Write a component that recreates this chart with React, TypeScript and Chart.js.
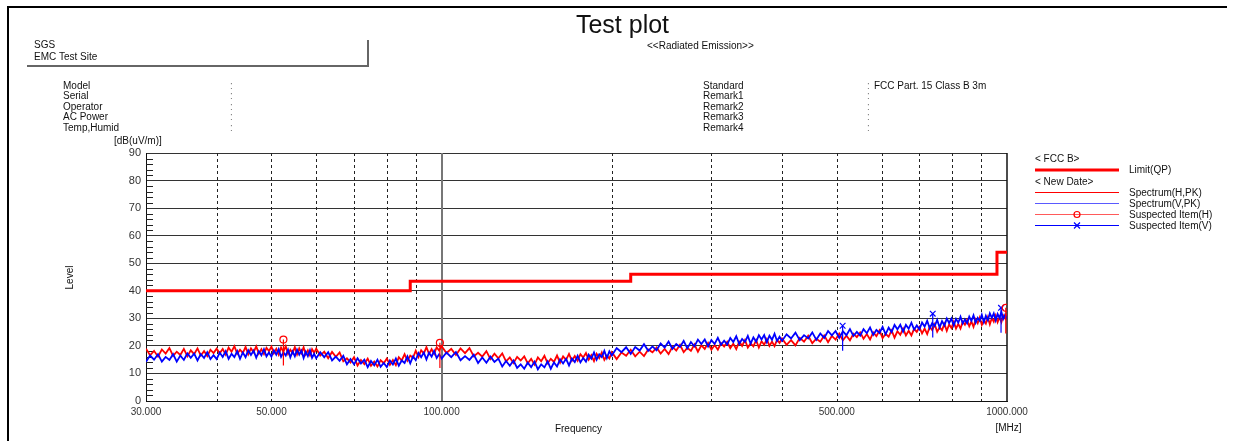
import { useEffect, useRef } from "react";
import { Chart, registerables } from "chart.js";

Chart.register(...registerables);

// ---------- data ----------
const FREQ_MHZ = [
  30, 30.5, 31, 31.5, 32, 32.5, 33, 33.5, 34, 34.5, 35, 35.5, 36, 36.5, 37, 37.5, 38, 38.5, 39, 39.5,
  40, 40.5, 41, 41.5, 42, 42.5, 43, 43.5, 44, 44.5, 45, 45.5, 46, 46.5, 47, 47.5, 48, 48.5, 49, 49.5,
  50, 50.5, 51, 51.5, 52, 52.5, 53, 53.5, 54, 54.5, 55, 55.5, 56, 56.5, 57, 57.5, 58, 58.5, 59, 59.5, 60,
  61, 62, 63, 64, 65, 66, 67, 68, 69, 70, 71, 72, 73, 74, 75, 76, 77, 78, 79, 80,
  81, 82, 83, 84, 85, 86, 87, 88, 89, 90, 91, 92, 93, 94, 95, 96, 97, 98, 99, 100,
  102, 104, 106, 108, 110, 112, 114, 116, 118, 120, 122, 124, 126, 128, 130, 132, 134, 136, 138, 140,
  142, 144, 146, 148, 150, 152, 154, 156, 158, 160, 162, 164, 166, 168, 170, 172, 174, 176, 178, 180,
  182, 184, 186, 188, 190, 192, 194, 196, 198, 200,
  204, 208, 212, 216, 220, 224, 228, 232, 236, 240, 244, 248, 252, 256, 260, 264, 268, 272, 276, 280,
  284, 288, 292, 296, 300, 304, 308, 312, 316, 320, 324, 328, 332, 336, 340, 344, 348, 352, 356, 360,
  364, 368, 372, 376, 380, 384, 388, 392, 396, 400,
  407.5, 415, 422.5, 430, 437.5, 445, 452.5, 460, 467.5, 475, 482.5, 490, 497.5, 505, 512.5, 520, 527.5, 535, 542.5, 550,
  557.5, 565, 572.5, 580, 587.5, 595, 602.5, 610, 617.5, 625, 632.5, 640, 647.5, 655, 662.5, 670, 677.5, 685, 692.5, 700,
  707.5, 715, 722.5, 730, 737.5, 745, 752.5, 760, 767.5, 775, 782.5, 790, 797.5, 805, 812.5, 820, 827.5, 835, 842.5, 850,
  857.5, 865, 872.5, 880, 887.5, 895, 902.5, 910, 917.5, 925, 932.5, 940, 947.5, 955, 962.5, 970, 977.5, 985, 992.5, 1000,
];

const SPECTRUM_H = [
  19.0, 16.6, 18.2, 16.1, 18.7, 17.2, 19.2, 16.4, 17.9, 16.7, 18.9, 16.2, 18.4, 17.0, 19.1, 16.5, 18.1, 16.3, 18.6, 17.4,
  19.0, 17.3, 18.9, 16.8, 19.4, 17.9, 19.9, 17.1, 18.6, 17.4, 19.6, 16.9, 19.1, 17.7, 19.8, 17.2, 18.8, 17.0, 19.3, 18.1,
  19.7, 17.3, 18.9, 16.8, 19.4, 17.9, 19.9, 17.1, 18.6, 17.4, 19.6, 16.9, 19.1, 17.4, 19.5, 16.9, 18.4, 16.6, 18.8, 17.5, 19.0,
  16.5, 17.9, 15.5, 17.8, 16.0, 17.6, 14.4, 15.5, 14.0, 15.9, 12.9, 14.9, 13.4, 15.4, 12.8, 14.3, 12.5, 14.8, 13.7, 15.4,
  13.1, 14.9, 13.0, 15.9, 14.7, 17.0, 14.6, 16.5, 15.7, 18.3, 15.9, 18.4, 17.2, 19.5, 17.1, 18.8, 17.1, 19.5, 18.3, 19.9,
  17.4, 18.9, 16.7, 19.1, 17.4, 19.2, 16.2, 17.5, 16.1, 18.1, 15.2, 17.2, 15.5, 17.3, 14.4, 15.8, 13.8, 16.0, 14.7, 16.2,
  13.7, 15.3, 13.2, 15.8, 14.4, 16.4, 13.7, 15.3, 14.2, 16.5, 13.9, 16.2, 14.9, 17.1, 14.6, 16.3, 14.6, 17.0, 15.8, 17.4,
  15.0, 16.6, 14.5, 17.1, 15.6, 17.6, 14.9, 16.5, 15.4, 17.7,
  15.2, 17.6, 16.4, 18.6, 16.2, 17.9, 16.3, 18.7, 17.7, 19.4, 17.2, 18.9, 17.0, 19.7, 18.3, 20.4, 17.7, 19.3, 18.2, 20.5,
  17.9, 20.2, 18.9, 21.1, 18.6, 20.3, 18.6, 21.0, 19.8, 21.5, 19.2, 20.8, 18.8, 21.5, 20.0, 22.1, 19.4, 20.9, 19.8, 22.1,
  19.4, 21.7, 20.4, 22.5, 20.0, 21.6, 19.9, 22.2, 21.1, 22.7,
  20.4, 22.1, 20.2, 22.9, 21.5, 23.7, 21.0, 22.6, 21.5, 23.8, 21.3, 23.6, 22.3, 24.5, 22.0, 23.7, 22.0, 24.4, 23.2, 24.9,
  22.6, 24.3, 22.3, 24.9, 23.5, 25.6, 22.8, 24.4, 23.3, 25.6, 23.0, 25.3, 24.0, 26.3, 23.8, 25.5, 23.8, 26.2, 25.1, 26.8,
  24.5, 26.3, 24.3, 27.0, 25.7, 27.8, 25.1, 26.7, 25.7, 28.0, 25.5, 27.8, 26.5, 28.8, 26.3, 28.0, 26.3, 28.8, 27.7, 29.4,
  27.1, 28.9, 26.9, 29.6, 28.2, 30.3, 27.6, 29.2, 28.1, 30.4, 27.8, 30.1, 28.8, 31.0, 28.6, 30.3, 28.6, 31.0, 29.9, 31.6,
];

const SPECTRUM_V = [
  14.2, 16.5, 15.0, 17.0, 14.3, 16.0, 14.9, 17.0, 14.3, 16.5, 14.9, 17.3, 15.7, 17.2, 14.7, 17.0, 15.6, 17.7, 15.2, 16.6,
  15.2, 17.6, 16.0, 18.1, 15.3, 17.1, 15.9, 18.1, 15.3, 17.6, 15.9, 18.4, 16.7, 18.3, 15.7, 18.1, 16.6, 18.8, 16.2, 17.6,
  16.1, 18.4, 16.8, 18.8, 16.0, 17.7, 16.5, 18.6, 15.8, 18.0, 16.2, 18.6, 16.8, 18.3, 15.6, 17.9, 16.3, 18.4, 15.7, 17.1, 15.5,
  17.7, 15.9, 17.7, 14.7, 16.1, 14.6, 16.4, 13.3, 15.2, 13.3, 15.5, 13.6, 15.0, 12.3, 14.5, 12.9, 15.0, 12.4, 13.8, 12.3,
  14.7, 13.2, 15.4, 12.8, 14.7, 13.8, 16.2, 13.7, 16.2, 14.8, 17.4, 15.9, 17.6, 15.1, 17.5, 16.1, 18.2, 15.6, 17.0, 15.4,
  17.6, 15.9, 17.8, 14.8, 16.3, 14.9, 16.8, 13.8, 15.8, 13.9, 16.1, 14.2, 15.4, 12.5, 14.5, 12.8, 14.7, 12.0, 13.3, 11.7,
  13.9, 12.3, 14.3, 11.5, 13.3, 12.2, 14.4, 11.7, 14.0, 12.5, 15.1, 13.6, 15.3, 12.9, 15.4, 14.1, 16.4, 14.0, 15.6, 14.3,
  16.8, 15.4, 17.6, 15.0, 16.9, 15.9, 18.2, 15.6, 18.0, 16.5,
  19.2, 17.7, 19.5, 17.1, 19.6, 18.3, 20.6, 18.2, 19.8, 18.4, 20.9, 19.4, 21.6, 18.9, 20.7, 19.6, 21.8, 19.1, 21.4, 19.8,
  22.3, 20.7, 22.3, 19.8, 22.1, 20.7, 22.9, 20.4, 21.9, 20.5, 22.9, 21.4, 23.5, 20.7, 22.5, 21.4, 23.6, 20.8, 23.1, 21.5,
  23.9, 22.3, 23.9, 21.3, 23.7, 22.2, 24.4, 21.8, 23.3, 21.8,
  24.2, 22.7, 24.8, 22.1, 23.9, 22.7, 24.9, 22.2, 24.5, 22.9, 25.4, 23.8, 25.4, 22.9, 25.3, 23.9, 26.1, 23.6, 25.1, 23.7,
  26.1, 24.6, 26.7, 24.0, 25.8, 24.7, 26.9, 24.2, 26.6, 25.0, 27.6, 26.0, 27.7, 25.2, 27.6, 26.2, 28.4, 25.9, 27.4, 26.0,
  28.5, 27.0, 29.1, 26.4, 28.3, 27.2, 29.4, 26.7, 29.0, 27.4, 29.9, 28.3, 29.9, 27.4, 29.8, 28.4, 30.6, 28.1, 29.6, 28.2,
  30.6, 29.1, 31.1, 28.4, 30.2, 29.1, 31.3, 28.6, 30.9, 29.3, 31.8, 30.2, 31.8, 29.2, 31.6, 30.2, 32.3, 29.8, 31.3, 29.8,
];

const LIMIT_FREQ = [30, 88, 216, 960, 1000];
const LIMIT_QP = [40, 43.5, 46, 54, 54];

const SUSPECT_H_FREQ = [52.5, 99.3, 995];
const SUSPECT_H_LEVEL = [22.3, 21.1, 33.8];
const SUSPECT_H_LOW = [12.9, 12.0, 24.5];

const SUSPECT_V_FREQ = [512, 739, 976];
const SUSPECT_V_LEVEL = [27.3, 31.7, 33.8];
const SUSPECT_V_LOW = [18.2, 23.0, 24.8];

const X_TICKS = [30, 50, 100, 500, 1000];
const X_GRID_DASHED = [40, 50, 60, 70, 80, 90, 200, 300, 400, 500, 600, 700, 800, 900];
const X_GRID_SOLID = [100];
const Y_MIN = 0;
const Y_MAX = 90;
const Y_STEP = 10;
const Y_MINOR_STEP = 2;

const TITLE = "Test plot";
const SUBTITLE = "<<Radiated Emission>>";
const SITE_LINES = ["SGS", "EMC Test Site"];
const INFO_LEFT = ["Model", "Serial", "Operator", "AC Power", "Temp,Humid"];
const INFO_RIGHT = ["Standard", "Remark1", "Remark2", "Remark3", "Remark4"];
const INFO_RIGHT_VALUES = ["FCC Part. 15 Class B 3m", "", "", "", ""];
const Y_UNIT = "[dB(uV/m)]";
const Y_TITLE = "Level";
const X_TITLE = "Frequency";
const X_UNIT = "[MHz]";
const LEGEND_GROUP_1 = "< FCC B>";
const LEGEND_GROUP_2 = "< New Date>";
const LEGEND_LABELS = ["Limit(QP)", "Spectrum(H,PK)", "Spectrum(V,PK)", "Suspected Item(H)", "Suspected Item(V)"];

const FONT = '"Liberation Sans", Arial, Helvetica, sans-serif';
const RED = "#ff0000";
const BLUE = "#0000ff";

const decorPlugin = {
  id: "decor",
  beforeDatasetsDraw(chart: any) {
    const { ctx, chartArea: a, scales } = chart;
    const x = scales.x;
    const y = scales.y;
    const line = (x1: number, y1: number, x2: number, y2: number) => {
      ctx.beginPath();
      ctx.moveTo(x1, y1);
      ctx.lineTo(x2, y2);
      ctx.stroke();
    };
    ctx.save();
    ctx.strokeStyle = "#222";
    ctx.lineWidth = 1;
    for (let v = Y_MIN; v <= Y_MAX; v += Y_MINOR_STEP) {
      if (v % Y_STEP === 0) continue;
      const py = Math.round(y.getPixelForValue(v)) + 0.5;
      line(a.left, py, a.left + 7, py);
    }
    ctx.setLineDash([3, 3]);
    ctx.strokeStyle = "#222";
    for (const f of X_GRID_DASHED) {
      const px = Math.round(x.getPixelForValue(f)) + 0.5;
      line(px, a.top, px, a.bottom);
    }
    ctx.setLineDash([]);
    ctx.strokeStyle = "#777";
    ctx.lineWidth = 2;
    for (const f of X_GRID_SOLID) {
      const px = Math.round(x.getPixelForValue(f));
      line(px, a.top, px, a.bottom);
    }
    ctx.strokeStyle = "#111";
    ctx.lineWidth = 1.5;
    line(a.right, a.top, a.right, a.bottom);
    ctx.restore();
  },
  afterDraw(chart: any) {
    const { ctx } = chart;
    ctx.save();
    ctx.fillStyle = "#000";
    ctx.fillRect(7, 6, 1220, 2);
    ctx.fillRect(7, 6, 2, 435);
    ctx.fillStyle = "#666";
    ctx.fillRect(27, 65, 342, 2);
    ctx.fillRect(367, 40, 2, 27);

    ctx.fillStyle = "#111";
    ctx.textBaseline = "alphabetic";
    ctx.textAlign = "center";
    ctx.font = `25px ${FONT}`;
    ctx.fillText(TITLE, 622.5, 33);

    ctx.textAlign = "left";
    ctx.font = `10px ${FONT}`;
    ctx.fillText(SUBTITLE, 647, 49);
    SITE_LINES.forEach((t, i) => ctx.fillText(t, 34, 48 + i * 11.5));

    INFO_LEFT.forEach((t, i) => {
      const by = 88.5 + i * 10.6;
      ctx.fillStyle = "#111";
      ctx.fillText(t, 63, by);
      ctx.fillStyle = "#777";
      ctx.fillText(":", 230, by);
    });
    INFO_RIGHT.forEach((t, i) => {
      const by = 88.5 + i * 10.6;
      ctx.fillStyle = "#111";
      ctx.fillText(t, 703, by);
      ctx.fillStyle = "#777";
      ctx.fillText(":", 867, by);
      if (INFO_RIGHT_VALUES[i]) {
        ctx.fillStyle = "#111";
        ctx.fillText(INFO_RIGHT_VALUES[i], 874, by);
      }
    });

    ctx.fillStyle = "#111";
    ctx.fillText(Y_UNIT, 114, 144);
    ctx.textAlign = "center";
    ctx.fillText(X_TITLE, 578.5, 432);
    ctx.fillText(X_UNIT, 1008.5, 431);
    ctx.save();
    ctx.translate(73, 277.5);
    ctx.rotate(-Math.PI / 2);
    ctx.fillText(Y_TITLE, 0, 0);
    ctx.restore();

    ctx.textAlign = "left";
    ctx.fillText(LEGEND_GROUP_1, 1035, 162);
    ctx.fillText(LEGEND_GROUP_2, 1035, 184.5);
    const lx1 = 1035;
    const lx2 = 1119;
    const rows = [170, 192.5, 203.5, 214.5, 225.5];
    ctx.fillStyle = RED;
    ctx.fillRect(lx1, rows[0] - 1.5, lx2 - lx1, 3);
    const seg = (yy: number, color: string, w: number) => {
      ctx.strokeStyle = color;
      ctx.lineWidth = w;
      ctx.beginPath();
      ctx.moveTo(lx1, yy);
      ctx.lineTo(lx2, yy);
      ctx.stroke();
    };
    seg(rows[1], RED, 1);
    seg(rows[2], "#5a5aff", 1);
    seg(rows[3], "#ff5a5a", 1);
    seg(rows[4], BLUE, 1);
    const mx = 1077;
    ctx.strokeStyle = RED;
    ctx.lineWidth = 1.2;
    ctx.beginPath();
    ctx.arc(mx, rows[3], 3, 0, Math.PI * 2);
    ctx.stroke();
    ctx.strokeStyle = BLUE;
    ctx.beginPath();
    ctx.moveTo(mx - 3, rows[4] - 3);
    ctx.lineTo(mx + 3, rows[4] + 3);
    ctx.moveTo(mx + 3, rows[4] - 3);
    ctx.lineTo(mx - 3, rows[4] + 3);
    ctx.stroke();
    ctx.fillStyle = "#111";
    ctx.textBaseline = "middle";
    LEGEND_LABELS.forEach((t, i) => ctx.fillText(t, 1129, rows[i] + 0.5));
    ctx.restore();
  },
};

export default function App() {
  const ref = useRef<HTMLCanvasElement>(null);

  useEffect(() => {
    const canvas = ref.current;
    if (!canvas) return;

    const hPoints = FREQ_MHZ.map((f, i) => ({ x: f, y: SPECTRUM_H[i] }));
    const vPoints = FREQ_MHZ.map((f, i) => ({ x: f, y: SPECTRUM_V[i] }));
    const limitPoints = LIMIT_FREQ.map((f, i) => ({ x: f, y: LIMIT_QP[i] }));
    const spikesH = SUSPECT_H_FREQ.flatMap((f, i) => [
      { x: f, y: SUSPECT_H_LEVEL[i] },
      { x: f, y: SUSPECT_H_LOW[i] },
      { x: f, y: null as any },
    ]);
    const spikesV = SUSPECT_V_FREQ.flatMap((f, i) => [
      { x: f, y: SUSPECT_V_LEVEL[i] },
      { x: f, y: SUSPECT_V_LOW[i] },
      { x: f, y: null as any },
    ]);
    const markH = SUSPECT_H_FREQ.map((f, i) => ({ x: f, y: SUSPECT_H_LEVEL[i] }));
    const markV = SUSPECT_V_FREQ.map((f, i) => ({ x: f, y: SUSPECT_V_LEVEL[i] }));

    const chart = new Chart(canvas, {
      type: "line",
      data: {
        datasets: [
          {
            label: "Suspected Item(H)",
            data: markH,
            showLine: false,
            pointStyle: "circle",
            pointRadius: 3.5,
            pointBorderColor: RED,
            pointBackgroundColor: "rgba(0,0,0,0)",
            pointBorderWidth: 1.2,
            order: 0,
          },
          {
            label: "Suspected Item(V)",
            data: markV,
            showLine: false,
            pointStyle: "crossRot",
            pointRadius: 4,
            pointBorderColor: BLUE,
            pointBorderWidth: 1.2,
            order: 0,
          },
          {
            label: "spikeH",
            data: spikesH,
            borderColor: RED,
            borderWidth: 1.2,
            pointRadius: 0,
            spanGaps: false,
            order: 1,
          },
          {
            label: "spikeV",
            data: spikesV,
            borderColor: BLUE,
            borderWidth: 1.2,
            pointRadius: 0,
            spanGaps: false,
            order: 1,
          },
          {
            label: "Limit(QP)",
            data: limitPoints,
            borderColor: RED,
            borderWidth: 3,
            pointRadius: 0,
            stepped: "before",
            order: 2,
          },
          {
            label: "Spectrum(V,PK)",
            data: vPoints,
            borderColor: BLUE,
            borderWidth: 1.8,
            pointRadius: 0,
            tension: 0,
            order: 3,
          },
          {
            label: "Spectrum(H,PK)",
            data: hPoints,
            borderColor: RED,
            borderWidth: 1.8,
            pointRadius: 0,
            tension: 0,
            order: 4,
          },
        ],
      },
      options: {
        animation: false,
        responsive: false,
        events: [],
        layout: { padding: { left: 106, right: 227, top: 153, bottom: 20 } },
        plugins: { legend: { display: false }, tooltip: { enabled: false } },
        scales: {
          x: {
            type: "logarithmic",
            min: 30,
            max: 1000,
            afterBuildTicks: (s: any) => {
              s.ticks = X_TICKS.map((v) => ({ value: v }));
            },
            afterFit: (s: any) => {
              s.height = 20;
              s.paddingLeft = 0;
              s.paddingRight = 0;
            },
            ticks: {
              autoSkip: false,
              maxRotation: 0,
              padding: 5,
              color: "#333",
              font: { family: FONT, size: 10 },
              callback: (v: any) => Number(v).toFixed(3),
            },
            grid: { display: false, drawTicks: false },
            border: { display: true, color: "#111", width: 1 },
          },
          y: {
            type: "linear",
            min: Y_MIN,
            max: Y_MAX,
            afterFit: (s: any) => {
              s.width = 40;
              s.paddingTop = 0;
              s.paddingBottom = 0;
            },
            ticks: {
              stepSize: Y_STEP,
              padding: 5,
              color: "#333",
              font: { family: FONT, size: 11 },
            },
            grid: { color: "#333", lineWidth: 1, drawTicks: false },
            border: { display: true, color: "#111", width: 1 },
          },
        },
      },
      plugins: [decorPlugin],
    } as any);

    return () => chart.destroy();
  }, []);

  return (
    <div style={{ position: "absolute", left: 0, top: 0, width: 1234, height: 441, background: "#fff" }}>
      <canvas ref={ref} width={1234} height={441} style={{ display: "block", width: 1234, height: 441 }} />
    </div>
  );
}
